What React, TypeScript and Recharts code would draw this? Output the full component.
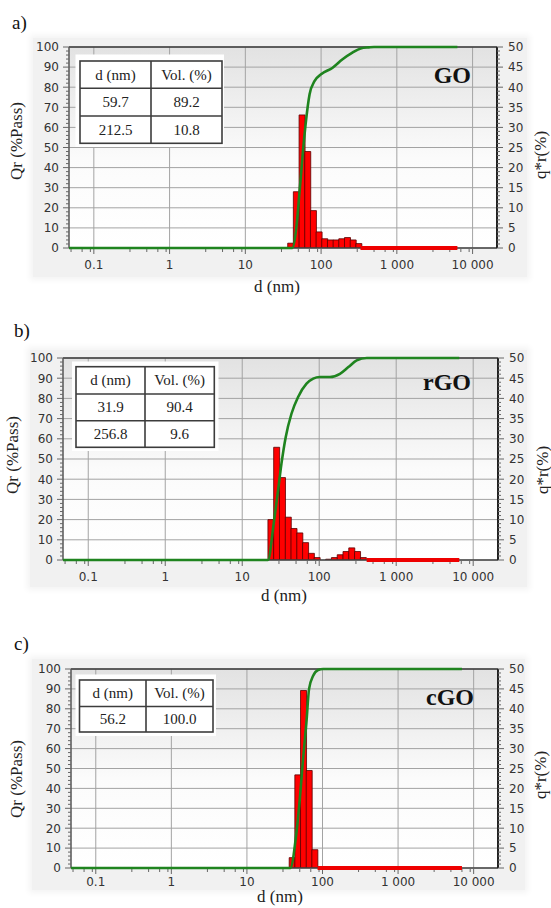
import React from 'react';
import { ComposedChart, Bar, Line, XAxis, YAxis, CartesianGrid, ReferenceLine } from 'recharts';

// ---------- shared axes ----------
const X_DOMAIN: [number, number] = [0.047, 21000];
const X_MAJOR = [0.1, 1, 10, 100, 1000, 10000];
const X_MAJOR_LABELS = ['0.1', '1', '10', '100', '1 000', '10 000'];
const X_MINOR = [0.05, 0.07, 0.09, 0.3, 0.5, 0.7, 0.9, 3, 5, 7, 9, 30, 50, 70, 90, 300, 500, 700, 900, 3000, 5000, 7000, 9000];
const QR_TICKS = [0, 10, 20, 30, 40, 50, 60, 70, 80, 90, 100];
const QR_MINOR = [2, 4, 6, 8, 12, 14, 16, 18, 22, 24, 26, 28, 32, 34, 36, 38, 42, 44, 46, 48, 52, 54, 56, 58, 62, 64, 66, 68, 72, 74, 76, 78, 82, 84, 86, 88, 92, 94, 96, 98];
const Q3_TICKS = [0, 5, 10, 15, 20, 25, 30, 35, 40, 45, 50];
const Q3_MINOR = [1, 2, 3, 4, 6, 7, 8, 9, 11, 12, 13, 14, 16, 17, 18, 19, 21, 22, 23, 24, 26, 27, 28, 29, 31, 32, 33, 34, 36, 37, 38, 39, 41, 42, 43, 44, 46, 47, 48, 49];

// ---------- size classes (nm): bin centres ----------
const BIN_D = [23.5, 27.9, 33.2, 39.5, 46.9, 55.8, 66.3, 78.8, 93.6, 111.2, 132.2, 157.1, 186.7, 221.9, 263.8, 313.5, 372.6];

// ---------- GO ----------
const GO_Q = [null, null, null, 1.2, 14, 33.1, 24, 9.3, 4, 2.3, 2, 2, 2.3, 2.6, 2, 1.1, null];
const GO_CUM_D = [0.047, 41.7, 47.2, 52.1, 57.7, 62.5, 70.5, 81.8, 100, 142, 192, 259, 333, 427, 500, 6300];
const GO_CUM_V = [0, 0, 10.3, 28.5, 48.3, 61.6, 76.5, 83, 86.4, 89.7, 93.9, 97.2, 99.3, 99.8, 100, 100];
const GO_TAIL_D = [331, 6300];
const GO_TABLE_D = ['59.7', '212.5'];
const GO_TABLE_VOL = ['89.2', '10.8'];

// ---------- rGO ----------
const RGO_Q = [10, 27.9, 20.4, 10.6, 7.8, 6.7, 4.3, 1.65, 0.6, 0, 0.2, 0.6, 1.3, 2.1, 3.0, 2.1, 0.6];
const RGO_CUM_D = [0.047, 21.6, 25.6, 29.2, 32.3, 36.7, 43.6, 53.2, 68.4, 83.6, 102, 138, 186, 239, 307, 414, 6600];
const RGO_CUM_V = [0, 0, 17.9, 34.4, 47.6, 60.8, 72.4, 80.7, 87.3, 89.8, 90.6, 90.6, 92.2, 95.5, 98.8, 100, 100];
const RGO_TAIL_D = [413, 6600];
const RGO_TABLE_D = ['31.9', '256.8'];
const RGO_TABLE_VOL = ['90.4', '9.6'];

// ---------- cGO ----------
const CGO_Q = [null, null, null, 2.6, 23.4, 44.6, 24.5, 4.6, null, null, null, null, null, null, null, null, null];
const CGO_CUM_D = [0.047, 37.4, 45, 49.9, 55.2, 61.2, 66.4, 75.2, 87.5, 102, 7000];
const CGO_CUM_V = [0, 0, 17.2, 34, 54.4, 73, 90, 96.6, 99.5, 100, 100];
const CGO_TAIL_D = [86, 7000];
const CGO_TABLE_D = ['56.2'];
const CGO_TABLE_VOL = ['100.0'];

const SERIF = "'Liberation Serif', 'Times New Roman', serif";
const SANS = "'DejaVu Sans', Verdana, sans-serif";
const TICK_COLOR = '#333';
const AXIS_W = 40;
const AXIS_H = 30;
const GREEN = '#1f841f';
const RED_LINE = '#ee0000';

const makeXTick = (dy: number) => (props: any) => {
  const { x, y, payload } = props;
  const idx = X_MAJOR.indexOf(payload.value);
  const major = idx >= 0;
  return (
    <g>
      <line x1={x} x2={x} y1={y + 1} y2={y + (major ? 6 : 4)} stroke="#666" strokeWidth={1} />
      {major ? (
        <text x={x} y={y + dy} textAnchor="middle" fontSize={12} fontFamily={SANS} fill={TICK_COLOR}>
          {X_MAJOR_LABELS[idx]}
        </text>
      ) : null}
    </g>
  );
};

const LeftTick = (props: any) => {
  const { x, y, payload } = props;
  const major = QR_TICKS.indexOf(payload.value) >= 0;
  return (
    <g>
      <line x1={x - (major ? 6 : 3)} x2={x} y1={y} y2={y} stroke="#666" strokeWidth={1} />
      {major ? (
        <text x={x - 10} y={y + 4.3} textAnchor="end" fontSize={12} fontFamily={SANS} fill={TICK_COLOR}>
          {payload.value}
        </text>
      ) : null}
    </g>
  );
};

const RightTick = (props: any) => {
  const { x, y, payload } = props;
  const major = Q3_TICKS.indexOf(payload.value) >= 0;
  return (
    <g>
      <line x1={x} x2={x + (major ? 6 : 3)} y1={y} y2={y} stroke="#666" strokeWidth={1} />
      {major ? (
        <text x={x + 11} y={y + 4.3} textAnchor="start" fontSize={12} fontFamily={SANS} fill={TICK_COLOR}>
          {payload.value}
        </text>
      ) : null}
    </g>
  );
};

type Layout = {
  id: string;
  top: number;
  height: number;
  pl: number;
  pr: number;
  pt: number;
  pb: number;
  gray: number[];
  letter: string;
  letterX: number;
  letterY: number;
  name: string;
  nameRight: number;
  nameY: number;
  qr: number[];
  q3: number[];
  dLabel: number[];
  xDy: number;
  pad: number[];
  xs: number[];
  ys: number[];
};

const LAYOUTS: Layout[] = [
  {
    id: 'a', top: 0, height: 300, pl: 69, pr: 497, pt: 47, pb: 248,
    gray: [33, 38, 527, 277], letter: 'a)', letterX: 12, letterY: 29,
    name: 'GO', nameRight: 471, nameY: 83, qr: [17, 141], q3: [541, 155], dLabel: [277, 292], xDy: 21,
    pad: [75.5, 54.5, 224, 147], xs: [80, 151, 222], ys: [61, 88.3, 116, 143.3],
  },
  {
    id: 'b', top: 300, height: 310, pl: 63, pr: 498, pt: 358, pb: 560,
    gray: [30, 350, 527, 587], letter: 'b)', letterX: 14, letterY: 337,
    name: 'rGO', nameRight: 471, nameY: 390, qr: [13, 455], q3: [543, 470], dLabel: [284, 601], xDy: 21,
    pad: [72, 361.5, 218.5, 451], xs: [76, 145, 214.3], ys: [366.7, 394, 420.7, 447.3],
  },
  {
    id: 'c', top: 610, height: 298, pl: 71, pr: 498, pt: 669, pb: 868,
    gray: [32, 659, 525, 890], letter: 'c)', letterX: 14, letterY: 650,
    name: 'cGO', nameRight: 474, nameY: 705, qr: [17, 779], q3: [541, 775], dLabel: [280, 902], xDy: 18,
    pad: [75.5, 674.5, 216, 736], xs: [79.5, 146, 213], ys: [680, 706.5, 732],
  },
];

type PanelData = {
  q: (number | null)[];
  cumD: number[];
  cumV: number[];
  tailD: number[];
};

function PanelCharts({ L, data }: { L: Layout; data: PanelData }) {
  const barRows = BIN_D.map((d, i) => ({ d, q: data.q[i] }));
  const cumRows = data.cumD.map((d, i) => ({ d, v: data.cumV[i] }));
  const tailRows = data.tailD.map((d) => ({ d, v: 0 }));
  const plotMargin = { top: L.pt - L.top, bottom: L.top + L.height - L.pb, left: L.pl, right: 551 - L.pr };
  const axisMargin = {
    top: plotMargin.top,
    bottom: plotMargin.bottom - AXIS_H,
    left: plotMargin.left - AXIS_W,
    right: plotMargin.right - AXIS_W,
  };
  const gid = `plotbg-${L.id}`;
  return (
    <>
      <div
        style={{
          position: 'absolute', left: L.gray[0], top: L.gray[1],
          width: L.gray[2] - L.gray[0], height: L.gray[3] - L.gray[1],
          background: '#f1f1f1', boxShadow: '0 0 6px 3px #f4f4f4',
        }}
      />
      <div style={{ position: 'absolute', left: 0, top: L.top }}>
        <ComposedChart width={551} height={L.height} data={barRows} margin={axisMargin} barCategoryGap={0} barGap={0}>
          <defs>
            <linearGradient id={gid} x1="0" y1="0" x2="0" y2="1">
              <stop offset="0" stopColor="#e2e2e2" />
              <stop offset="0.55" stopColor="#fbfbfb" />
              <stop offset="1" stopColor="#ffffff" />
            </linearGradient>
          </defs>
          <CartesianGrid
            fill={`url(#${gid})`}
            fillOpacity={1}
            stroke="#a3a3a3"
            strokeWidth={1}
            horizontalValues={QR_TICKS}
            verticalValues={X_MAJOR}
          />
          <XAxis
            dataKey="d"
            type="number"
            scale="log"
            domain={X_DOMAIN}
            allowDataOverflow
            ticks={[...X_MAJOR, ...X_MINOR]}
            interval={0}
            tick={makeXTick(L.xDy)}
            tickLine={false}
            tickSize={0}
            tickMargin={0}
            height={AXIS_H}
            axisLine={{ stroke: '#444', strokeWidth: 1.6 }}
          />
          <YAxis
            type="number"
            domain={[0, 100]}
            allowDataOverflow
            ticks={[...QR_TICKS, ...QR_MINOR]}
            interval={0}
            tick={LeftTick}
            tickLine={false}
            tickSize={0}
            tickMargin={0}
            width={AXIS_W}
            axisLine={{ stroke: '#555', strokeWidth: 1.5 }}
          />
          <YAxis
            yAxisId="r"
            type="number"
            orientation="right"
            domain={[0, 50]}
            allowDataOverflow
            ticks={[...Q3_TICKS, ...Q3_MINOR]}
            interval={0}
            tick={RightTick}
            tickLine={false}
            tickSize={0}
            tickMargin={0}
            width={AXIS_W}
            axisLine={{ stroke: '#222', strokeWidth: 2 }}
          />
          <ReferenceLine y={100} stroke="#3a3a3a" strokeWidth={1.5} ifOverflow="extendDomain" />
          <Bar yAxisId="r" dataKey="q" fill="#ff0000" stroke="#5a0000" strokeWidth={0.8} isAnimationActive={false} />
        </ComposedChart>
      </div>
      <div style={{ position: 'absolute', left: 0, top: L.top, pointerEvents: 'none' }}>
        <ComposedChart width={551} height={L.height} margin={plotMargin}>
          <XAxis dataKey="d" type="number" scale="log" domain={X_DOMAIN} hide />
          <YAxis domain={[0, 100]} hide />
          <YAxis yAxisId="r" orientation="right" domain={[0, 50]} hide />
          <Line
            yAxisId="r"
            data={tailRows}
            dataKey="v"
            type="linear"
            stroke={RED_LINE}
            strokeWidth={4}
            dot={false}
            isAnimationActive={false}
          />
          <Line
            data={cumRows}
            dataKey="v"
            type="monotone"
            stroke={GREEN}
            strokeWidth={2.6}
            dot={false}
            isAnimationActive={false}
          />
        </ComposedChart>
      </div>
    </>
  );
}

function PanelText({ L, tD, tV }: { L: Layout; tD: string[]; tV: string[] }) {
  const { xs, ys, pad } = L;
  const rows = [['d (nm)', 'Vol. (%)'], ...tD.map((d, i) => [d, tV[i]])];
  const cx0 = (xs[0] + xs[1]) / 2;
  const cx1 = (xs[1] + xs[2]) / 2;
  return (
    <g>
      <text x={L.letterX} y={L.letterY} fontSize={19} fontFamily={SERIF} fill="#111">{L.letter}</text>
      <text x={L.nameRight} y={L.nameY} fontSize={24} fontWeight="bold" fontFamily={SERIF} fill="#111" textAnchor="end">{L.name}</text>
      <text
        transform={`translate(${L.qr[0]},${L.qr[1]}) rotate(-90)`}
        textAnchor="middle"
        dy={5}
        fontSize={17}
        fontFamily={SERIF}
        fill="#222"
      >
        Qr (%Pass)
      </text>
      <text
        transform={`translate(${L.q3[0]},${L.q3[1]}) rotate(-90)`}
        textAnchor="middle"
        dy={5}
        fontSize={17}
        fontFamily={SERIF}
        fill="#222"
      >
        q*r(%)
      </text>
      <text x={L.dLabel[0]} y={L.dLabel[1]} textAnchor="middle" fontSize={17} fontFamily={SERIF} fill="#222">d (nm)</text>
      <rect x={pad[0]} y={pad[1]} width={pad[2] - pad[0]} height={pad[3] - pad[1]} fill="#ffffff" />
      <rect x={xs[0]} y={ys[0]} width={xs[2] - xs[0]} height={ys[ys.length - 1] - ys[0]} fill="none" stroke="#3c3c3c" strokeWidth={1.6} />
      {ys.slice(1, -1).map((y, i) => (
        <line key={i} x1={xs[0]} x2={xs[2]} y1={y} y2={y} stroke="#3c3c3c" strokeWidth={1.6} />
      ))}
      <line x1={xs[1]} x2={xs[1]} y1={ys[0]} y2={ys[ys.length - 1]} stroke="#3c3c3c" strokeWidth={1.6} />
      {rows.map((r, i) => {
        const cy = (ys[i] + ys[i + 1]) / 2 + 5;
        return (
          <g key={i}>
            <text x={cx0} y={cy} textAnchor="middle" fontSize={15} fontFamily={SERIF} fill="#222">{r[0]}</text>
            <text x={cx1} y={cy} textAnchor="middle" fontSize={15} fontFamily={SERIF} fill="#222">{r[1]}</text>
          </g>
        );
      })}
    </g>
  );
}

export default function App() {
  const datas: PanelData[] = [
    { q: GO_Q, cumD: GO_CUM_D, cumV: GO_CUM_V, tailD: GO_TAIL_D },
    { q: RGO_Q, cumD: RGO_CUM_D, cumV: RGO_CUM_V, tailD: RGO_TAIL_D },
    { q: CGO_Q, cumD: CGO_CUM_D, cumV: CGO_CUM_V, tailD: CGO_TAIL_D },
  ];
  const tables = [
    [GO_TABLE_D, GO_TABLE_VOL],
    [RGO_TABLE_D, RGO_TABLE_VOL],
    [CGO_TABLE_D, CGO_TABLE_VOL],
  ];
  return (
    <div style={{ position: 'absolute', left: 0, top: 0, width: 551, height: 908, background: '#fff', overflow: 'hidden' }}>
      {LAYOUTS.map((L, i) => (
        <PanelCharts key={L.id} L={L} data={datas[i]} />
      ))}
      <svg width={551} height={908} style={{ position: 'absolute', left: 0, top: 0, pointerEvents: 'none' }}>
        {LAYOUTS.map((L, i) => (
          <PanelText key={L.id} L={L} tD={tables[i][0]} tV={tables[i][1]} />
        ))}
      </svg>
    </div>
  );
}
